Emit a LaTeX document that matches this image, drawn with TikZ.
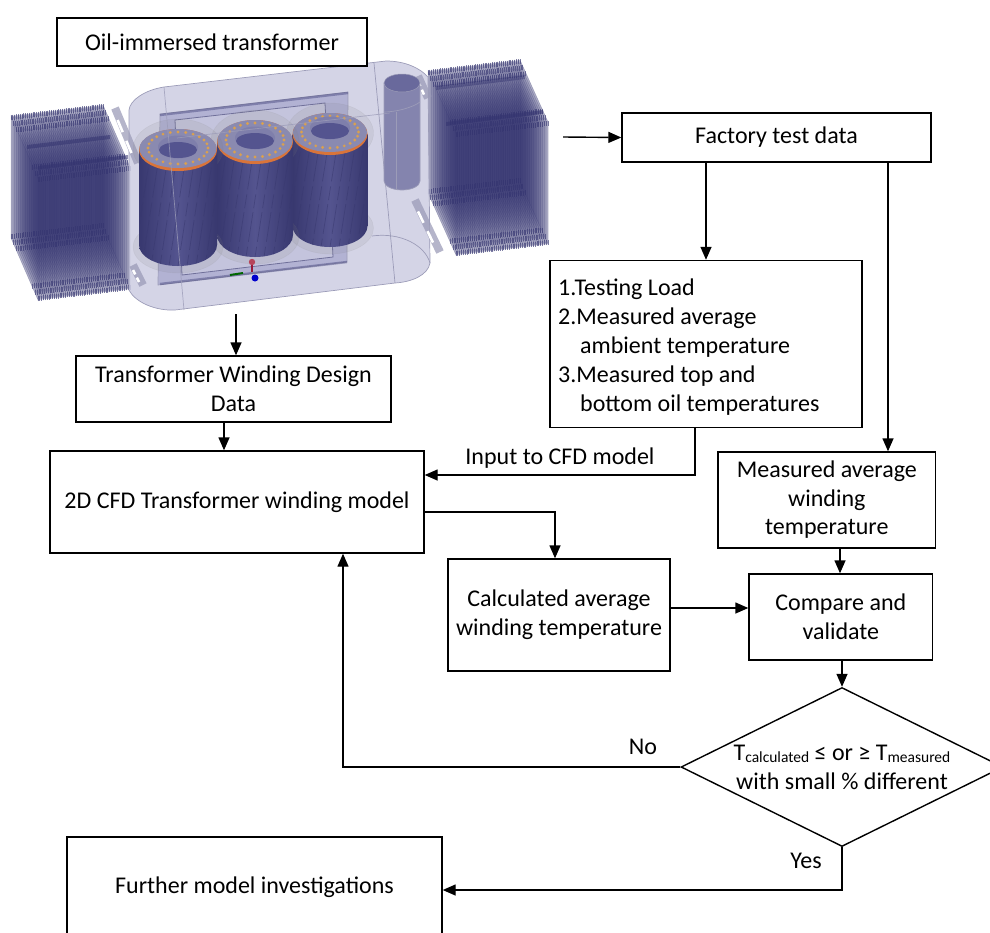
\documentclass[tikz,border=0pt]{standalone}
\usepackage{fontspec}
\setmainfont{Carlito}
\usetikzlibrary{arrows.meta,shapes.geometric}
\definecolor{fin}{HTML}{33336F}
\definecolor{tankc}{HTML}{CDCDE2}
\definecolor{tankl}{HTML}{9C9CB8}
\definecolor{cyl}{HTML}{54548F}
\definecolor{cyld}{HTML}{38386F}
\definecolor{plate}{HTML}{A9A9CF}
\definecolor{ringo}{HTML}{D9743A}
\definecolor{ringg}{HTML}{8A8AB0}
\definecolor{dot}{HTML}{D9A050}
\newcommand{\fs}[2]{\fontsize{#1}{#2}\selectfont}
\tikzset{
  flowbox/.style={draw=black,line width=1.4pt,fill=white,align=center,inner sep=0pt,font=\fs{24}{29}},
  flowtext/.style={inner sep=0pt,font=\fs{24}{29}},
  flow/.style={draw=black,line width=1.4pt,-{Triangle[length=13pt,width=11pt]}},
}
% #1 origin x, #2 origin y, #3 a x, #4 a y, #5 b x, #6 b y, #7 height
\newcommand{\myradiator}[7]{%
  \fill[fin,opacity=.3] (#1,#2) -- ++(#3,#4) -- ++(#5,#6) -- ++(0,#7) -- ++(-#3,-#4) -- ++(-#5,-#6) -- cycle;
  \foreach \i in {0,...,50}{%
    \pgfmathsetmacro{\px}{#1+\i/50*#3}%
    \pgfmathsetmacro{\py}{#2+\i/50*#4}%
    \fill[fin,fill opacity=.14] (\px,\py) -- ++(#5,#6) -- ++(0,#7) -- ++(-#5,-#6) -- cycle;
    \draw[fin,opacity=.3,line width=.5pt] (\px,\py) -- ++(#5,#6) -- ++(0,#7) -- ++(-#5,-#6) -- cycle;
    \foreach \k in {0,.1,.2,.8,.9,1}{%
      \draw[fin,opacity=.6,line width=.9pt] (\px+\k*#5,\py+\k*#6-1) -- ++(0,5);
      \draw[fin,opacity=.6,line width=.9pt] (\px+\k*#5,\py+\k*#6+#7-4) -- ++(0,5);
    }%
  }%
}
% #1 cx, #2 cy top, #3 rx, #4 ry, #5 body height, #6 hole cy
\newcommand{\mywinding}[6]{%
  \fill[gray,opacity=.13,draw=gray] (#1,#2-1) ellipse[x radius=#3+6,y radius=#4+9];
  \fill[gray,opacity=.13,draw=gray] (#1,#2+#5+2) ellipse[x radius=#3+6,y radius=#4+5];
  \begin{scope}
    \clip (#1-#3,#2) -- (#1-#3,#2+#5) arc[start angle=180,end angle=0,x radius=#3,y radius=#4] -- (#1+#3,#2) -- cycle;
    \shade[left color=cyld,right color=cyld,middle color=cyl] (#1-#3,#2-5) rectangle (#1+#3,#2+#5+#4+2);
    \foreach \j in {-6,...,6}{%
      \draw[cyld,line width=.7pt,opacity=.55,dash pattern=on 14pt off 4pt on 30pt off 5pt] (#1+\j*9+9,#2) -- (#1+\j*9-9,#2+#5+#4);
    }%
  \end{scope}
  \fill[ringo] (#1,#2) ellipse[x radius=#3,y radius=#4];
  \fill[ringg] (#1,#2-1.5) ellipse[x radius=#3-.5,y radius=#4-1.5];
  \foreach \a in {0,15,...,345}{%
    \fill[dot] ({#1+(#3-9)*cos(\a)},{#2-2+(#4-5)*sin(\a)}) circle[radius=1.6];
  }%
  \fill[cyl!75!white] (#1,#6) ellipse[x radius=20,y radius=11.5];
  \fill[cyl] (#1,#6+3) ellipse[x radius=19,y radius=8];
}
\begin{document}
\begin{tikzpicture}[x=1pt,y=-1pt]
\useasboundingbox (0,0) rectangle (990,932);
\clip (0,0) rectangle (990,932);
% --- transformer rendering ---
\myradiator{11}{116}{92}{-11}{27}{62}{122}
\fill[fin,opacity=.55] (27,145) -- (110,135) -- (110,139) -- (27,149) -- cycle;
\fill[fin,opacity=.55] (38,166) -- (128,155) -- (128,159) -- (38,170) -- cycle;
\myradiator{428}{71}{92}{-11}{28}{62}{122}
\fill[fin,opacity=.55] (446,122) -- (543,110) -- (543,114) -- (446,126) -- cycle;
\fill[fin,opacity=.45] (436,86) -- (525,75) -- (525,79) -- (436,90) -- cycle;
% tank
\draw[tankl,fill=tankc,fill opacity=.85,line width=.7pt]
  (164,87) -- (386,61) .. controls (405,61) and (420,68) .. (428,77)
  -- (430,263) .. controls (428,275) and (412,282) .. (395,283)
  -- (175,310) .. controls (155,311) and (135,302) .. (129,290)
  -- (129,110) .. controls (130,100) and (145,90) .. (164,87) -- cycle;
\draw[tankl,line width=.7pt] (374,63) -- (395,283);
\draw[tankl,line width=.7pt] (372,236) .. controls (400,232) and (425,245) .. (430,263);
% pipes
\foreach \ax/\ay/\bx/\by in {115/108/138/163, 133/265/143/285, 415/200/440/252, 418/76/428/98}{%
  \draw[tankl,line width=8pt,opacity=.75] (\ax,\ay) -- (\bx,\by);
  \draw[white,line width=2.6pt] ({\ax+.2*(\bx-\ax)-2},{\ay+.2*(\by-\ay)+1}) -- ({\ax+.42*(\bx-\ax)-2},{\ay+.42*(\by-\ay)+1});
  \draw[white,line width=2.6pt] ({\ax+.58*(\bx-\ax)-2},{\ay+.58*(\by-\ay)+1}) -- ({\ax+.8*(\bx-\ax)-2},{\ay+.8*(\by-\ay)+1});
}
% core
\draw[tankl,fill=plate,fill opacity=.8,line width=.7pt] (160,114) -- (348,92) -- (347,262) -- (158,285) -- cycle;
\draw[fin!70!white,fill=tankc,fill opacity=.7,line width=.8pt] (175,120) -- (325,103) -- (333,257) -- (182,275) -- cycle;
\draw[fin,opacity=.4,line width=2.4pt] (160,115) -- (348,93) (160,284) -- (347,262);
% small cylinder
\fill[cyl!72!white,draw=tankl,line width=.7pt] (384,83) -- (384,181) arc[start angle=180,end angle=0,x radius=18,y radius=9] -- (420,83) -- cycle;
\fill[cyl!88!white,draw=tankl,line width=.5pt] (402,83) ellipse[x radius=18,y radius=9];
\draw[tankl,line width=.7pt] (384,112) .. controls (395,112) and (412,108) .. (420,102);
\draw[tankl,line width=.7pt] (396,112) -- (396,190);
% windings
\mywinding{330}{134}{37.5}{21}{92}{128}
\mywinding{255}{142}{38}{22}{93}{138}
\mywinding{178}{150}{39}{21}{95}{147}
\draw[tankl,line width=.7pt,opacity=.8] (164,87) -- (184,310);
\draw[tankl,line width=.7pt,opacity=.8] (177,138) -- (390,113);
% triad
\draw[red!50!fin,line width=1.2pt] (252,262) -- (252,272);
\fill[red!55!fin!80!white] (252,262) circle[radius=3.2];
\draw[green!40!black,line width=2pt] (230,275) -- (243,273);
\fill[blue!80!black] (255,278) circle[radius=3.5];
% --- flow chart ---
\node[flowbox,minimum width=310,minimum height=48] (oil) at (212,42) {Oil-immersed transformer};
\node[flowbox,minimum width=309,minimum height=49] (factory) at (776.5,137.5) {\raisebox{-2pt}{Factory test data}};
\node[flowbox,minimum width=312,minimum height=167] (load) at (706,344) {};
\node[flowtext,anchor=north west,align=left] (loadtext) at (558,279) {1.Testing Load\\2.Measured average\\\hspace*{22pt}ambient temperature\\3.Measured top and\\\hspace*{22pt}bottom oil temperatures};
\node[flowbox,minimum width=315,minimum height=66] (design) at (233.5,389) {Transformer Winding Design\\Data};
\node[flowbox,minimum width=374,minimum height=102] (cfd) at (237,502) {2D CFD Transformer winding model};
\node[flowbox,font=\fs{24}{28.5},minimum width=217.6,minimum height=96] (meas) at (826.8,500) {Measured average\\winding\\temperature};
\node[flowbox,minimum width=222,minimum height=112] (calc) at (559,615) {\raisebox{-3pt}{\begin{tabular}{@{}c@{}}Calculated average\\winding temperature\end{tabular}}};
\node[flowbox,minimum width=183.6,minimum height=86] (comp) at (840.8,617) {Compare and\\validate};
\node[flowbox,diamond,aspect=2.03,minimum width=322,minimum height=159] (dec) at (842,767) {};
\node[flowtext,align=center] (dectext) at (842,767) {T\raisebox{-2pt}{\fs{15.5}{15}calculated} ≤ or ≥ T\raisebox{-2pt}{\fs{15.5}{15}measured}\\with small \% different};
\node[flowbox,minimum width=375,minimum height=100] (further) at (254.5,887) {\raisebox{-2pt}{Further model investigations}};
\coordinate (imgright) at (563,137);
\coordinate (imgdown) at (236,314);
% connectors
\draw[flow] (imgright) -- (factory.west);
\draw[flow] (imgdown) -- (imgdown |- design.north);
\draw[flow] (factory.south -| load.north) -- (load.north);
\draw[flow] (factory.south -| 888,0) -- (meas.north -| 888,0);
\draw[flow] (design.south -| 224,0) -- (cfd.north -| 224,0);
\draw[flow] (load.south -| 695,0) -- (695,475) -- (cfd.east |- 0,475);
\draw[flow] (cfd.east |- 0,512) -- (555,512) -- (calc.north -| 555,0);
\draw[flow] (calc.east |- 0,608) -- (comp.west |- 0,608);
\draw[flow] (meas.south -| 840,0) -- (comp.north -| 840,0);
\draw[flow] (comp.south -| dec.north) -- (dec.north);
\draw[flow] (dec.west) -- (343,767) -- (cfd.south -| 343,0);
\draw[flow] (dec.south) -- (842,890) -- (further.east |- 0,890);
\node[flowtext] (inlabel) at (560,458) {Input to CFD model};
\node[flowtext] (nolabel) at (643,747) {No};
\node[flowtext] (yeslabel) at (806,861) {Yes};
\end{tikzpicture}
\end{document}
